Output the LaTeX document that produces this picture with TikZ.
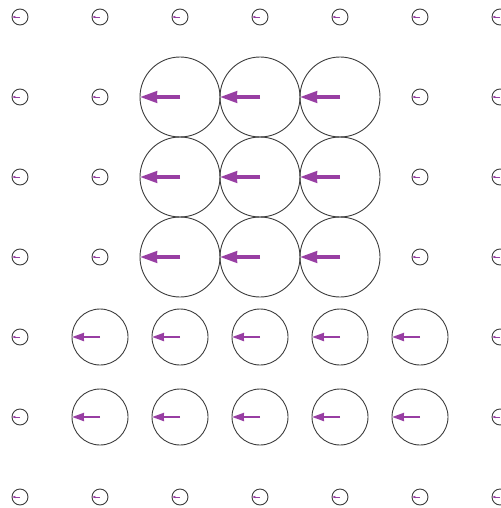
\documentclass[tikz,border=0pt]{standalone}
\usetikzlibrary{arrows.meta}
\definecolor{vec}{RGB}{152,62,163}
\definecolor{ringc}{RGB}{60,60,60}
\newcommand\fieldcell[3]{%
  \pgfmathsetmacro\mylw{0.09*#3}%
  \pgfmathsetmacro\myhl{0.42*#3}%
  \pgfmathsetmacro\myhw{0.28*#3}%
  \draw[ringline] (#1,#2) circle[radius=#3];
  \draw[vec, line width=\mylw pt, -{Stealth[length=\myhl pt, width=\myhw pt, inset=0.05pt]}] (#1,#2) -- ++(-#3,0);
}
\begin{document}
\begin{tikzpicture}[x=1pt,y=-1pt, ringline/.style={draw=ringc,line width=0.9pt}]
\useasboundingbox (0,0) rectangle (500,508);
% small everywhere on outer rows
\foreach \r in {0,6} {
  \foreach \c in {0,...,6} {
    \fieldcell{20+80*\c}{17+80*\r}{8}
  }
}
\foreach \r in {1,2,3} {
  \foreach \c in {0,1,5,6} {
    \fieldcell{20+80*\c}{17+80*\r}{8}
  }
  \foreach \c in {2,3,4} {
    \fieldcell{20+80*\c}{17+80*\r}{40}
  }
}
\foreach \r in {4,5} {
  \foreach \c in {0,6} {
    \fieldcell{20+80*\c}{17+80*\r}{8}
  }
  \foreach \c in {1,...,5} {
    \fieldcell{20+80*\c}{17+80*\r}{28}
  }
}
\end{tikzpicture}
\end{document}
